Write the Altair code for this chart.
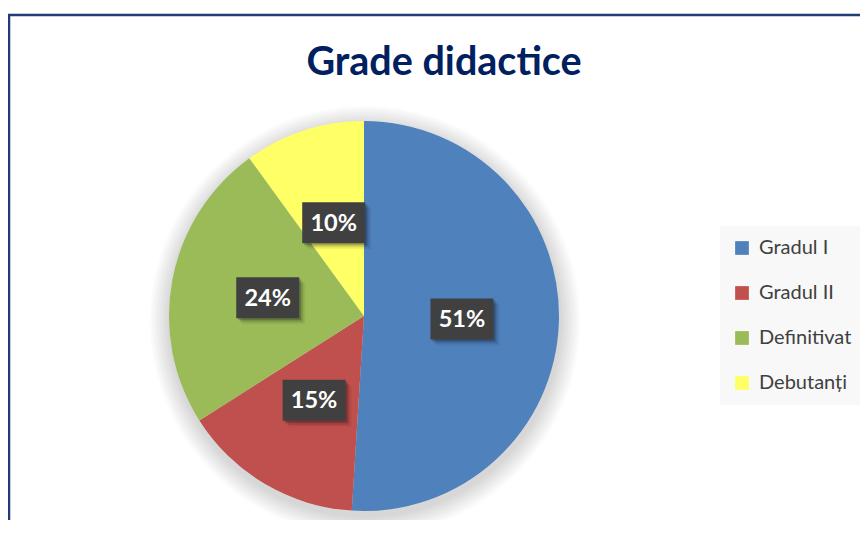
import altair as alt
import pandas as pd

categories = ["Gradul I", "Gradul II", "Definitivat", "Debutanți"]
values = [51, 15, 24, 10]
colors = ["#4f81bd", "#c0504d", "#9bbb59", "#ffff66"]
title_text = "Grade didactice"

df = pd.DataFrame({"cat": categories, "value": values, "idx": list(range(len(categories)))})

CX, CY, R = 356, 308, 195
LR = 98

pie = alt.Chart(df).mark_arc(outerRadius=R).encode(
    x=alt.value(CX), y=alt.value(CY),
    theta=alt.Theta("value:Q", stack=True),
    order=alt.Order("idx:Q"),
    color=alt.Color("cat:N", scale=alt.Scale(domain=categories, range=colors),
                    legend=alt.Legend(title=None, orient="none", legendX=712, legendY=218,
                                      labelFont="Lato", labelFontSize=20, labelColor="#404040",
                                      symbolType="square", symbolSize=188, symbolStrokeWidth=0,
                                      symbolOpacity=1, rowPadding=25, padding=12,
                                      fillColor="#f8f8f8", labelOffset=7)),
)

# soft shadow behind the pie
shadows = []
for k in range(10):
    shadows.append(
        alt.Chart(alt.Data(values=[{"a": 1}])).mark_arc(
            theta=0, theta2=6.2832, radius=R + 2 + 2 * k, color="black", opacity=0.014
        ).encode(x=alt.value(CX + 1), y=alt.value(CY + 5))
    )

base = alt.Chart(df).transform_window(
    cum="sum(value)", sort=[alt.SortField("idx")]
).transform_joinaggregate(total="sum(value)").transform_calculate(
    mid="(datum.cum - datum.value/2)/datum.total*2*PI",
    label="format(datum.value/datum.total, '.0%')",
).transform_calculate(
    px=f"{CX} + {LR}*sin(datum.mid)",
    py=f"{CY} - {LR}*cos(datum.mid)",
).transform_calculate(
    x1="datum.px - 31.5", x2="datum.px + 31.5", y1="datum.py - 20.5", y2="datum.py + 20.5",
)

box_shadow = []
for off, op in [(2, 0.22), (4, 0.12), (6, 0.06)]:
    box_shadow.append(
        base.transform_calculate(
            sx1=f"datum.x1 + {off}", sx2=f"datum.x2 + {off}",
            sy1=f"datum.y1 + {off}", sy2=f"datum.y2 + {off}",
        ).mark_rect(color="black", opacity=op).encode(
            x=alt.X("sx1:Q", scale=None), x2="sx2:Q",
            y=alt.Y("sy1:Q", scale=None), y2="sy2:Q",
        )
    )

boxes = base.mark_rect(color="#404040").encode(
    x=alt.X("x1:Q", scale=None), x2="x2:Q",
    y=alt.Y("y1:Q", scale=None), y2="y2:Q",
)

labels = base.mark_text(font="Lato", fontSize=23.5, fontWeight="bold", color="white",
                        align="center", baseline="middle", dy=1).encode(
    x=alt.X("px:Q", scale=None), y=alt.Y("py:Q", scale=None), text="label:N"
)

title = alt.Chart(alt.Data(values=[{"t": title_text}])).mark_text(
    font="Lato", fontSize=39.5, fontWeight="bold", color="#002060",
    align="center", baseline="alphabetic"
).encode(x=alt.value(436), y=alt.value(67), text="t:N")

frame = alt.Chart(alt.Data(values=[{"a": 1}])).mark_rect(
    fill="white", fillOpacity=0, stroke="#1f3c78", strokeWidth=2.5
).encode(x=alt.value(1), x2=alt.value(1000), y=alt.value(7), y2=alt.value(1000))

chart = alt.layer(*shadows, pie, *box_shadow, boxes, labels, title, frame).properties(
    width=852, height=512, padding=0, autosize=alt.AutoSizeParams(type="none"),
    background="white",
).configure_view(stroke=None)

chart.save("out.html", embed_options={"renderer": "svg", "actions": False})
